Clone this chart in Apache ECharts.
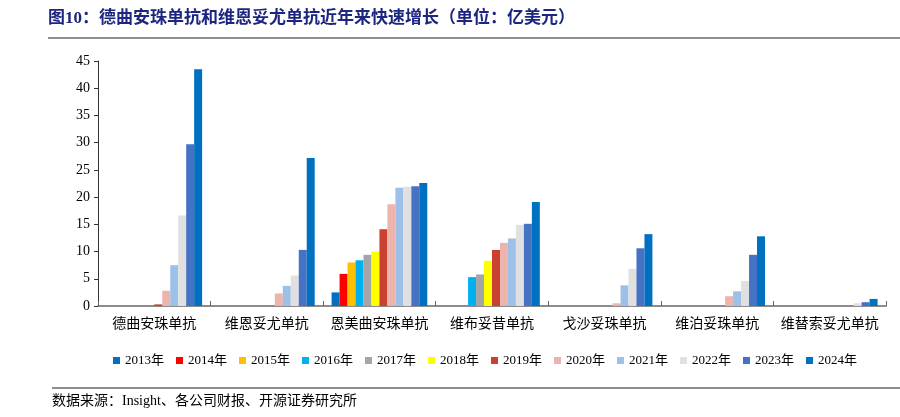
<!DOCTYPE html>
<html><head><meta charset="utf-8">
<script src="https://cdn.jsdelivr.net/npm/echarts@6/dist/echarts.min.js"></script>
<style>html,body{margin:0;padding:0;background:#fff}#c{width:900px;height:417px}</style>
</head><body><div id="c"></div>
<script>
const categories = ['德曲安珠单抗','维恩妥尤单抗','恩美曲安珠单抗','维布妥昔单抗','戈沙妥珠单抗','维泊妥珠单抗','维替索妥尤单抗'];
const years = ['2013年','2014年','2015年','2016年','2017年','2018年','2019年','2020年','2021年','2022年','2023年','2024年'];
const colors = ['#0070C0','#FF0000','#FFC000','#00B0F0','#A5A5A5','#FFFF00','#C9412F','#EDB4AC','#9DC0E8','#E0E0E0','#4472C4','#0070C0'];
const v2013 = [0,0,2.5,0,0,0,0];
const v2014 = [0,0,5.9,0,0,0,0];
const v2015 = [0,0,8.0,0,0,0,0];
const v2016 = [0,0,8.4,5.3,0,0,0];
const v2017 = [0,0,9.4,5.8,0,0,0];
const v2018 = [0,0,10.0,8.3,0,0,0];
const v2019 = [0.3,0,14.1,10.3,0,0,0];
const v2020 = [2.8,2.3,18.7,11.6,0.5,1.8,0];
const v2021 = [7.5,3.7,21.7,12.4,3.8,2.7,0];
const v2022 = [16.6,5.6,21.9,14.9,6.8,4.6,0.5];
const v2023 = [29.7,10.3,22.0,15.1,10.6,9.4,0.7];
const v2024 = [43.5,27.2,22.6,19.1,13.2,12.8,1.3];
const yTicks = {min:0, max:45, interval:5};
const values = [v2013,v2014,v2015,v2016,v2017,v2018,v2019,v2020,v2021,v2022,v2023,v2024];

const FONT = '"Liberation Serif","Noto Sans CJK SC",serif';
const chart = echarts.init(document.getElementById('c'));
chart.setOption({
  animation:false,
  grid:{left:98,right:14,top:61,bottom:111},
  legend:{
    data:years, left:108, top:349, itemWidth:7, itemHeight:7, itemGap:12,
    icon:'rect',
    textStyle:{fontFamily:FONT,fontSize:13,color:'#000'}
  },
  xAxis:{
    type:'category', data:categories,
    axisLine:{lineStyle:{color:'#8c8c8c',width:2}},
    axisTick:{show:true,inside:true,length:5,lineStyle:{color:'#666'}},
    axisLabel:{interval:0,fontFamily:FONT,fontSize:14,color:'#000',margin:11}
  },
  yAxis:{
    type:'value', min:yTicks.min, max:yTicks.max, interval:yTicks.interval,
    splitLine:{show:false},
    axisLine:{show:true,lineStyle:{color:'#333',width:1}},
    axisTick:{show:true,length:4,lineStyle:{color:'#333'}},
    axisLabel:{fontFamily:FONT,fontSize:14,color:'#000',margin:8}
  },
  series: years.map((y,i)=>({
    name:y, type:'bar', data:values[i], barGap:'0%', barCategoryGap:'15%',
    itemStyle:{color:colors[i]}
  })),
  graphic:[
    {type:'text',left:48,top:10,style:{text:'图10：德曲安珠单抗和维恩妥尤单抗近年来快速增长（单位：亿美元）',fill:'#1c2680',font:'bold 17px "Liberation Serif","Noto Sans CJK SC",serif'}},
    {type:'rect',shape:{x:48,y:37,width:852,height:2},style:{fill:'#8f8f8f'}},
    {type:'rect',shape:{x:52,y:387,width:848,height:2},style:{fill:'#8f8f8f'}},
    {type:'text',left:52,top:394,style:{text:'数据来源：Insight、各公司财报、开源证券研究所',fill:'#000',font:'14px "Liberation Serif","Noto Sans CJK SC",serif'}}
  ]
});
</script></body></html>
